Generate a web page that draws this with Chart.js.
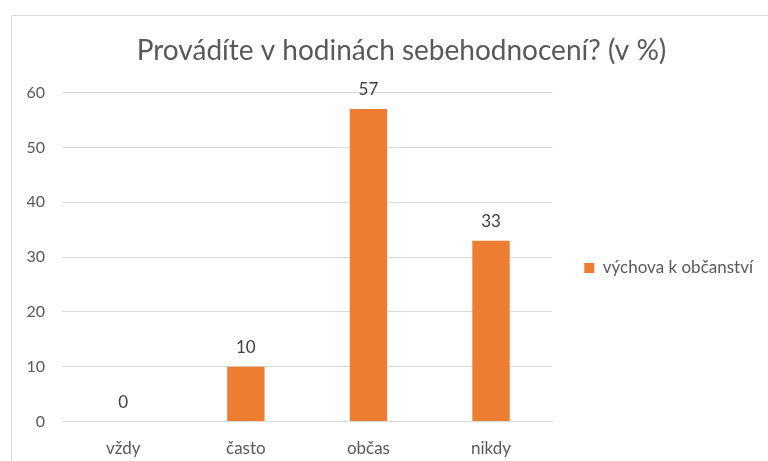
<!DOCTYPE html>
<html>
<head>
<meta charset="utf-8">
<script src="https://cdn.jsdelivr.net/npm/chart.js@4"></script>
<style>
  html, body { margin: 0; padding: 0; background: #fff; overflow: hidden; width: 768px; height: 461px; }
  #frame { position: absolute; left: 11px; top: 15px; width: 770px; height: 455px; border: 1px solid #d9d9d9; box-sizing: border-box; }
  #frame canvas { display: block; }
</style>
</head>
<body>
<div id="frame"><canvas id="chart"></canvas></div>
<script>
const categories = ["vždy", "často", "občas", "nikdy"];
const seriesName = "výchova k občanství";
const values = [0, 10, 57, 33];
const yTicks = [0, 10, 20, 30, 40, 50, 60];

// numbers above the bars
const valueLabels = {
  id: "valueLabels",
  afterDatasetsDraw(chart) {
    const ctx = chart.ctx;
    const meta = chart.getDatasetMeta(0);
    ctx.save();
    ctx.font = "17px Lato";
    ctx.fillStyle = "#404040";
    ctx.textAlign = "center";
    ctx.textBaseline = "alphabetic";
    meta.data.forEach((bar, i) => {
      ctx.fillText(String(values[i]), bar.x, bar.y - 14);
    });
    ctx.restore();
  }
};

// nudge legend and title like the Excel original
const boxShift = {
  id: "boxShift",
  afterLayout(chart) {
    const lg = chart.legend;
    lg.left += 24; lg.right += 24;
    lg.top += 26; lg.bottom += 26;
    const t = chart.titleBlock;
    t.left += 20; t.right += 20;
  }
};

new Chart(document.getElementById("chart"), {
  type: "bar",
  data: {
    labels: categories,
    datasets: [{
      label: seriesName,
      data: values,
      backgroundColor: "#ED7D31",
      barPercentage: 0.305,
      categoryPercentage: 1
    }]
  },
  options: {
    responsive: true,
    maintainAspectRatio: false,
    animation: false,
    layout: { padding: { left: 12, right: 41, top: 0, bottom: 1 } },
    plugins: {
      title: {
        display: true,
        text: "Provádíte v hodinách sebehodnocení? (v %)",
        color: "#595959",
        font: { family: "Lato", size: 28, weight: "normal" },
        padding: { top: 18, bottom: 25 }
      },
      legend: {
        position: "right",
        maxWidth: 240,
        labels: {
          color: "#595959",
          font: { family: "Lato", size: 17 },
          boxWidth: 10,
          boxHeight: 10,
          padding: 8
        }
      },
      tooltip: { enabled: false }
    },
    scales: {
      y: {
        min: 0,
        max: 60,
        afterBuildTicks(axis) { axis.ticks = yTicks.map(v => ({ value: v })); },
        afterFit(axis) { axis.width = 38; },
        grid: { color: "#d9d9d9", drawTicks: false },
        border: { display: false },
        ticks: { color: "#595959", font: { family: "Lato", size: 16 }, padding: 17 }
      },
      x: {
        grid: { display: false },
        border: { color: "#d9d9d9" },
        ticks: { color: "#595959", font: { family: "Lato", size: 17 }, padding: 9 }
      }
    }
  },
  plugins: [valueLabels, boxShift]
});
</script>
</body>
</html>
